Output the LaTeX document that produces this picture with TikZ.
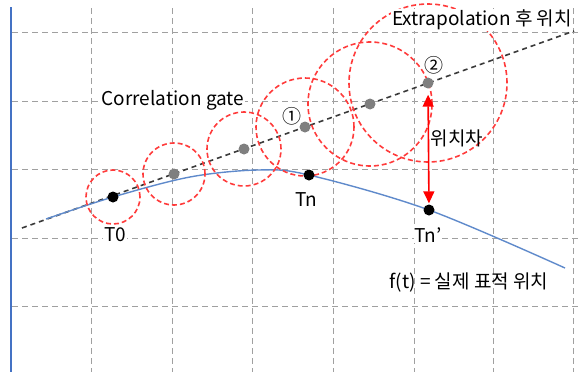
\documentclass[tikz,border=0pt]{standalone}
\usepackage{fontspec}
\setmainfont{Noto Sans CJK KR}
\definecolor{gtgrid}{HTML}{A0A0A0}
\definecolor{gtaxis}{HTML}{4472C4}
\definecolor{gtcurve}{HTML}{5F8ACB}
\definecolor{gtred}{HTML}{FF3B3B}
\definecolor{gtdot}{HTML}{7F7F7F}
\definecolor{gtline}{HTML}{3A3A3A}
\usetikzlibrary{arrows.meta}

\begin{document}
\begin{tikzpicture}[x=1pt,y=-1pt,
  font=\fontsize{19}{23}\selectfont,
  gridline/.style={gtgrid,line width=1pt,dash pattern=on 6pt off 4pt},
  track/.style={gtline,line width=1.6pt,dash pattern=on 5pt off 4pt},
  gate/.style={gtred,line width=1.6pt,dash pattern=on 5pt off 3pt},
  dot/.style={circle,fill=black,inner sep=0pt,minimum size=11pt},
  gdot/.style={dot,fill=gtdot},
  lbl/.style={fill=white,inner sep=1pt},
  ar/.style={{Triangle[length=12pt,width=11pt]}-{Triangle[length=12pt,width=11pt]},red,line width=1.6pt}]
\useasboundingbox (0,0) rectangle (586,372);
% grid
\foreach \x in {91,172,252,333,414,493,573}
  \draw[gridline] (\x,8) -- (\x,372);
\foreach \y in {32,101,169,238,306}
  \draw[gridline] (12,\y) -- (578,\y);
\draw[gtaxis,line width=1.6pt] (11,7) -- (11,372);
% predicted track
\coordinate (ls) at (22,228);
\coordinate (le) at (574,31);
\draw[track] (ls) -- (le);
% true target path
\draw[gtcurve,line width=1.4pt] plot[smooth,tension=0.55] coordinates
  {(46,219) (113,197) (190,177) (258,170) (309,175) (429,210) (565,268)};
% gates
\coordinate (p0) at (113,197);
\coordinate (p1) at (174,174);
\coordinate (p2) at (244,149);
\coordinate (p3) at (305,127);
\coordinate (p4) at (370,104);
\coordinate (p5) at (428,83);
\foreach \p/\r in {p0/27,p1/31,p2/37,p3/49,p4/62,p5/79}
  \draw[gate] (\p) circle[radius=\r pt];
% points
\node[dot] (t0) at (p0) {};
\foreach \i in {1,...,5}
  \node[gdot] (g\i) at (p\i) {};
\node[dot] (tn) at (309,175) {};
\node[dot] (tnp) at (429,210) {};
\draw[ar,shorten <=6pt,shorten >=1pt] (g5) -- (tnp);
% labels
\node[lbl] (lt0) at (115,235) {T0};
\node (ltn) at (306,200) {Tn};
\node[lbl] (ltnp) at (428,235) {Tn'};
\node[lbl] (lcg) at (173,100) {Correlation gate};
\node[lbl] (lex) at (482,20) {Extrapolation 후 위치};
\node (ldiff) at (457,138) {위치차};
\node (lf) at (469,283) {f(t) = 실제 표적 위치};
\node (n1) at (292,116) {①};
\node (n2) at (434,65) {②};
\end{tikzpicture}
\end{document}
